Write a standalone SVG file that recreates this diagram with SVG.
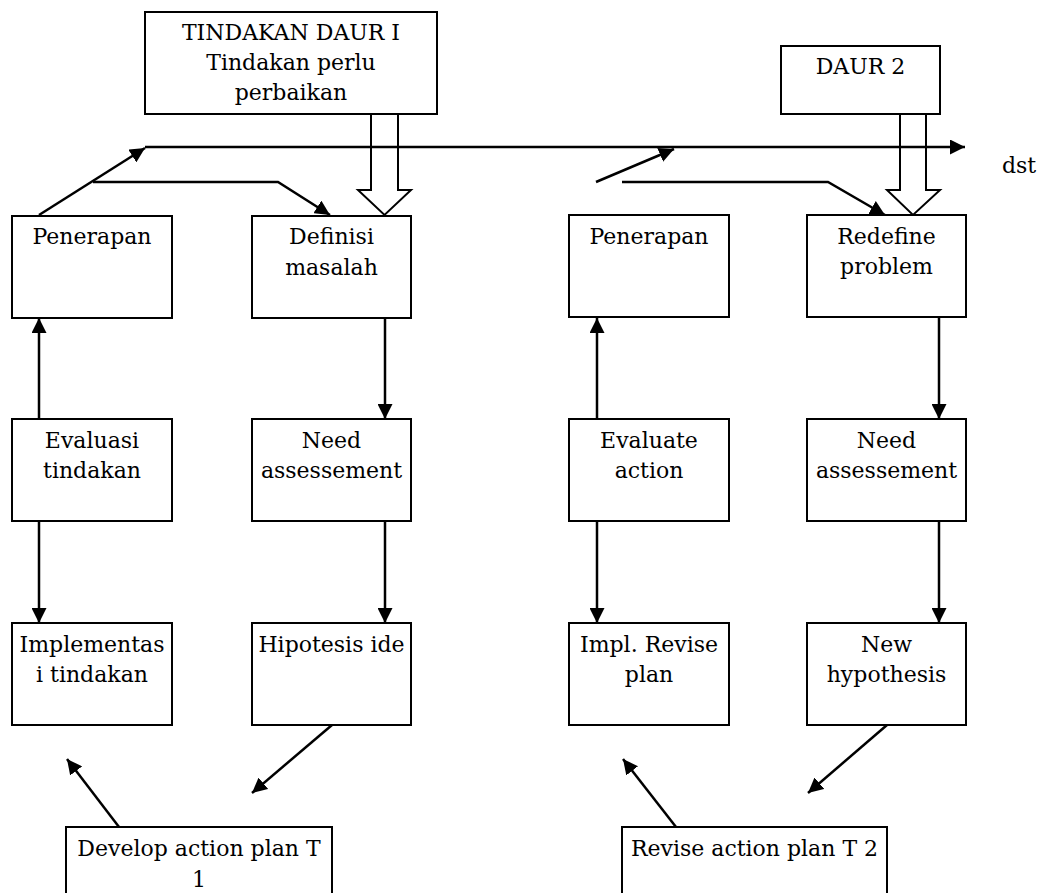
<svg xmlns="http://www.w3.org/2000/svg" width="1046" height="893" viewBox="0 0 1046 893">
<style>
.box{fill:#fff;stroke:#000;stroke-width:2}
.t{font-family:"DejaVu Serif","Liberation Serif",serif;font-size:22px;fill:#000;text-anchor:middle}
.c{fill:none;stroke:#000;stroke-width:2.5}
.blk{fill:none;stroke:#000;stroke-width:2}
</style>
<defs>
<marker id="ah" viewBox="0 0 10 10" refX="10" refY="5" markerWidth="6" markerHeight="6" markerUnits="strokeWidth" orient="auto">
<path d="M0,0 L10,5 L0,10 Z" fill="#000"/>
</marker>
</defs>
<rect width="1046" height="893" fill="#fff"/>

<g id="connectors">
<line class="c" x1="145" y1="147" x2="965" y2="147" marker-end="url(#ah)"/>
<line class="c" x1="39" y1="215" x2="145" y2="148" marker-end="url(#ah)"/>
<polyline class="c" points="93,182 278,182 330,215" marker-end="url(#ah)"/>
<line class="c" x1="596" y1="182" x2="674" y2="149" marker-end="url(#ah)"/>
<polyline class="c" points="622,182 828,182 885,215" marker-end="url(#ah)"/>
<polygon class="blk" points="371,114 371,190 358,190 384.5,215 411,190 398,190 398,114"/>
<polygon class="blk" points="900,114 900,190 887,190 913,215 940,190 926,190 926,114"/>
<line class="c" x1="39" y1="419" x2="39" y2="318" marker-end="url(#ah)"/>
<line class="c" x1="39" y1="521" x2="39" y2="623" marker-end="url(#ah)"/>
<line class="c" x1="385" y1="318" x2="385" y2="419" marker-end="url(#ah)"/>
<line class="c" x1="385" y1="521" x2="385" y2="623" marker-end="url(#ah)"/>
<line class="c" x1="597" y1="419" x2="597" y2="318" marker-end="url(#ah)"/>
<line class="c" x1="597" y1="521" x2="597" y2="623" marker-end="url(#ah)"/>
<line class="c" x1="939" y1="318" x2="939" y2="419" marker-end="url(#ah)"/>
<line class="c" x1="939" y1="521" x2="939" y2="623" marker-end="url(#ah)"/>
<line class="c" x1="119" y1="827" x2="67" y2="759" marker-end="url(#ah)"/>
<line class="c" x1="332" y1="725" x2="252" y2="793" marker-end="url(#ah)"/>
<line class="c" x1="676" y1="827" x2="623" y2="759" marker-end="url(#ah)"/>
<line class="c" x1="887" y1="725" x2="808" y2="793" marker-end="url(#ah)"/>
</g>

<g id="tindakan-daur-1">
<rect class="box" x="145" y="12" width="292" height="102"/>
<text class="t" x="291" y="40">TINDAKAN DAUR I</text>
<text class="t" x="291" y="70">Tindakan perlu</text>
<text class="t" x="291" y="100">perbaikan</text>
</g>
<g id="daur-2">
<rect class="box" x="781" y="46" width="159" height="68"/>
<text class="t" x="860.5" y="74">DAUR 2</text>
</g>
<text class="t" x="1002" y="173" style="text-anchor:start">dst</text>

<g id="penerapan-1">
<rect class="box" x="12" y="216" width="160" height="102"/>
<text class="t" x="92" y="244">Penerapan</text>
</g>
<g id="definisi-masalah">
<rect class="box" x="252" y="216" width="159" height="102"/>
<text class="t" x="331.5" y="244">Definisi</text>
<text class="t" x="331.5" y="275">masalah</text>
</g>
<g id="evaluasi-tindakan">
<rect class="box" x="12" y="419" width="160" height="102"/>
<text class="t" x="92" y="448">Evaluasi</text>
<text class="t" x="92" y="478">tindakan</text>
</g>
<g id="need-assessement-1">
<rect class="box" x="252" y="419" width="159" height="102"/>
<text class="t" x="331.5" y="448">Need</text>
<text class="t" x="331.5" y="478">assessement</text>
</g>
<g id="implementasi-tindakan">
<rect class="box" x="12" y="623" width="160" height="102"/>
<text class="t" x="92" y="652">Implementas</text>
<text class="t" x="92" y="682">i tindakan</text>
</g>
<g id="hipotesis-ide">
<rect class="box" x="252" y="623" width="159" height="102"/>
<text class="t" x="331.5" y="652">Hipotesis ide</text>
</g>

<g id="penerapan-2">
<rect class="box" x="569" y="215" width="160" height="102"/>
<text class="t" x="649" y="244">Penerapan</text>
</g>
<g id="redefine-problem">
<rect class="box" x="807" y="215" width="159" height="102"/>
<text class="t" x="886.5" y="244">Redefine</text>
<text class="t" x="886.5" y="274">problem</text>
</g>
<g id="evaluate-action">
<rect class="box" x="569" y="419" width="160" height="102"/>
<text class="t" x="649" y="448">Evaluate</text>
<text class="t" x="649" y="478">action</text>
</g>
<g id="need-assessement-2">
<rect class="box" x="807" y="419" width="159" height="102"/>
<text class="t" x="886.5" y="448">Need</text>
<text class="t" x="886.5" y="478">assessement</text>
</g>
<g id="impl-revise-plan">
<rect class="box" x="569" y="623" width="160" height="102"/>
<text class="t" x="649" y="652">Impl. Revise</text>
<text class="t" x="649" y="682">plan</text>
</g>
<g id="new-hypothesis">
<rect class="box" x="807" y="623" width="159" height="102"/>
<text class="t" x="886.5" y="652">New</text>
<text class="t" x="886.5" y="682">hypothesis</text>
</g>

<g id="develop-action-plan">
<rect class="box" x="66" y="827" width="266" height="80"/>
<text class="t" x="199" y="856">Develop action plan T</text>
<text class="t" x="199" y="887">1</text>
</g>
<g id="revise-action-plan">
<rect class="box" x="622" y="827" width="265" height="80"/>
<text class="t" x="754.5" y="856">Revise action plan T 2</text>
</g>
</svg>
